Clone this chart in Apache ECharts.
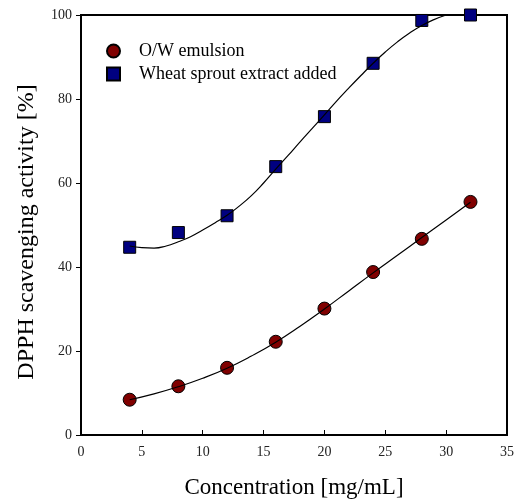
<!DOCTYPE html>
<html>
<head>
<meta charset="utf-8">
<script src="https://cdn.jsdelivr.net/npm/echarts@6/dist/echarts.min.js"></script>
<style>
  html, body { margin: 0; padding: 0; background: #fff; }
  #chart { width: 521px; height: 504px; }
</style>
</head>
<body>
<div id="chart"></div>
<script>
// measured points
const conc = [4, 8, 12, 16, 20, 24, 28, 32];
const owEmulsion = [8.4, 11.6, 16.0, 22.2, 30.1, 38.8, 46.7, 55.5];
const wheatAdded = [44.7, 48.2, 52.2, 63.9, 75.8, 88.5, 98.7, 100];

// fitted curves
const owFitX = [4, 6, 8, 10, 12, 14, 16, 18, 20, 22, 24, 26, 28, 30, 32];
const owFitY = [8.4, 9.8, 11.5, 13.5, 15.9, 18.8, 22.1, 25.9, 30.0, 34.3, 38.6, 42.8, 47.0, 51.2, 55.4];
const wheatFitX = [4, 5, 6, 7, 8, 9, 10, 11, 12, 13, 14, 15, 16, 17, 18, 19, 20, 21, 22, 23, 24, 25, 26, 27, 28, 29, 30];
const wheatFitY = [45.0, 44.6, 44.5, 45.0, 46.0, 47.2, 48.8, 50.5, 52.3, 54.5, 57.0, 60.0, 63.3, 66.5, 69.8, 73.0, 76.2, 79.5, 82.6, 85.6, 88.5, 91.2, 93.6, 95.7, 97.5, 98.9, 100.0];

const xTicks = [0, 35, 5];   // min, max, step
const yTicks = [0, 100, 20];

const serif = 'Liberation Serif';
const zip = (xs, ys) => xs.map((x, i) => [x, ys[i]]);

let chart = echarts.init(document.getElementById('chart'));
chart.setOption({
  animation: false,
  grid: { left: 81, right: 14, top: 15, bottom: 64, show: true, borderColor: '#000', borderWidth: 2, backgroundColor: 'transparent' },
  legend: {
    data: ['O/W emulsion', 'Wheat sprout extract added'],
    orient: 'vertical',
    left: 101, top: 37,
    itemWidth: 13, itemHeight: 13, itemGap: 5,
    textStyle: { fontFamily: serif, fontSize: 18, color: '#000', padding: [0, 0, 0, 14] }
  },
  xAxis: {
    type: 'value', min: xTicks[0], max: xTicks[1], interval: xTicks[2],
    name: 'Concentration [mg/mL]', nameLocation: 'middle', nameGap: 41,
    nameTextStyle: { fontFamily: serif, fontSize: 23, color: '#000' },
    axisLine: { lineStyle: { color: '#000', width: 2 } },
    axisTick: { inside: true, length: 5, lineStyle: { color: '#000' } },
    axisLabel: { fontFamily: serif, fontSize: 14, color: '#222', margin: 10 },
    splitLine: { show: false }
  },
  yAxis: {
    type: 'value', min: yTicks[0], max: yTicks[1], interval: yTicks[2],
    name: 'DPPH scavenging activity [%]', nameLocation: 'middle', nameGap: 42,
    nameTextStyle: { fontFamily: serif, fontSize: 24, color: '#000', padding: [0, 14, 0, 0] },
    axisLine: { show: true, lineStyle: { color: '#000', width: 2 } },
    axisTick: { show: true, length: 5, lineStyle: { color: '#000' } },
    axisLabel: { fontFamily: serif, fontSize: 14, color: '#222', margin: 9 },
    splitLine: { show: false }
  },
  series: [
    {
      name: 'O/W emulsion', type: 'scatter', data: zip(conc, owEmulsion),
      symbol: 'circle', symbolSize: 13,
      itemStyle: { color: '#800000', borderColor: '#000', borderWidth: 1, opacity: 1 }, z: 2
    },
    {
      name: 'Wheat sprout extract added', type: 'scatter', data: zip(conc, wheatAdded),
      symbol: 'rect', symbolSize: 12,
      itemStyle: { color: '#000080', borderColor: '#000', borderWidth: 1, opacity: 1 }, z: 2
    },
    {
      type: 'line', data: zip(owFitX, owFitY), smooth: true, showSymbol: false,
      lineStyle: { color: '#000', width: 1.2 }, z: 3, silent: true
    },
    {
      type: 'line', data: zip(wheatFitX, wheatFitY), smooth: true, showSymbol: false,
      lineStyle: { color: '#000', width: 1.2 }, z: 3, silent: true
    }
  ]
});
</script>
</body>
</html>
